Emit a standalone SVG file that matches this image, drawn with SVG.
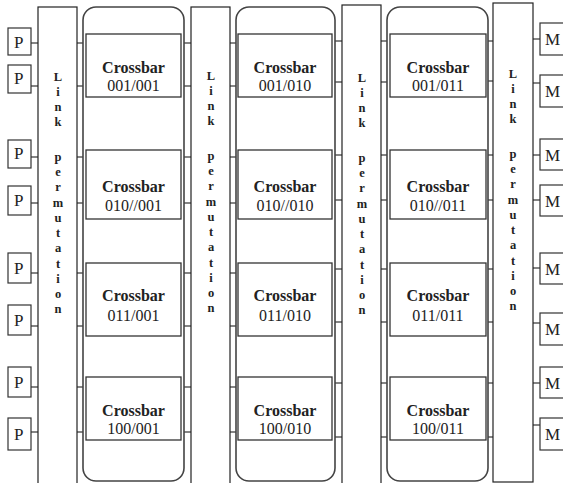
<svg xmlns="http://www.w3.org/2000/svg" width="563" height="483" viewBox="0 0 563 483">
<style>
.bg{fill:#fff}
.io{fill:#fff;stroke:#333;stroke-width:1.2}
.link{fill:#fff;stroke:#222;stroke-width:1.2}
.col{fill:#fff;stroke:#444;stroke-width:1.6}
.xb{fill:#fff;stroke:#333;stroke-width:1.3}
.con line{stroke:#333;stroke-width:1.2}
.iot{font-family:"Liberation Serif","Times New Roman","DejaVu Serif",serif;font-size:17px;fill:#222}
.lt{font-family:"Liberation Serif","Times New Roman","DejaVu Serif",serif;font-size:12.5px;font-weight:bold;fill:#222;text-anchor:middle}
.xt1{font-family:"Liberation Serif","Times New Roman","DejaVu Serif",serif;font-size:16px;font-weight:bold;fill:#222;text-anchor:middle}
.xt2{font-family:"Liberation Serif","Times New Roman","DejaVu Serif",serif;font-size:16px;fill:#222;text-anchor:middle}
</style>
<rect class="bg" x="0" y="0" width="563" height="483"/>

<g id="connectors" class="con">
  <line x1="31" y1="43" x2="38" y2="43"/>
  <line x1="31" y1="86" x2="38" y2="86"/>
  <line x1="31" y1="157" x2="38" y2="157"/>
  <line x1="31" y1="203" x2="38" y2="203"/>
  <line x1="31" y1="273" x2="38" y2="273"/>
  <line x1="31" y1="326" x2="38" y2="326"/>
  <line x1="31" y1="387" x2="38" y2="387"/>
  <line x1="31" y1="432" x2="38" y2="432"/>
  <line x1="77" y1="43" x2="86" y2="43"/>
  <line x1="77" y1="86" x2="86" y2="86"/>
  <line x1="77" y1="157" x2="86" y2="157"/>
  <line x1="77" y1="203" x2="86" y2="203"/>
  <line x1="77" y1="273" x2="86" y2="273"/>
  <line x1="77" y1="326" x2="86" y2="326"/>
  <line x1="77" y1="387" x2="86" y2="387"/>
  <line x1="77" y1="432" x2="86" y2="432"/>
  <line x1="181" y1="43" x2="191" y2="43"/>
  <line x1="181" y1="86" x2="191" y2="86"/>
  <line x1="181" y1="157" x2="191" y2="157"/>
  <line x1="181" y1="203" x2="191" y2="203"/>
  <line x1="181" y1="273" x2="191" y2="273"/>
  <line x1="181" y1="326" x2="191" y2="326"/>
  <line x1="181" y1="387" x2="191" y2="387"/>
  <line x1="181" y1="432" x2="191" y2="432"/>
  <line x1="230" y1="43" x2="238" y2="43"/>
  <line x1="230" y1="86" x2="238" y2="86"/>
  <line x1="230" y1="157" x2="238" y2="157"/>
  <line x1="230" y1="203" x2="238" y2="203"/>
  <line x1="230" y1="273" x2="238" y2="273"/>
  <line x1="230" y1="326" x2="238" y2="326"/>
  <line x1="230" y1="387" x2="238" y2="387"/>
  <line x1="230" y1="432" x2="238" y2="432"/>
  <line x1="332" y1="41" x2="342" y2="41"/>
  <line x1="332" y1="82" x2="342" y2="82"/>
  <line x1="332" y1="155" x2="342" y2="155"/>
  <line x1="332" y1="200" x2="342" y2="200"/>
  <line x1="332" y1="269" x2="342" y2="269"/>
  <line x1="332" y1="322" x2="342" y2="322"/>
  <line x1="332" y1="383" x2="342" y2="383"/>
  <line x1="332" y1="437" x2="342" y2="437"/>
  <line x1="381" y1="41" x2="390" y2="41"/>
  <line x1="381" y1="82" x2="390" y2="82"/>
  <line x1="381" y1="155" x2="390" y2="155"/>
  <line x1="381" y1="200" x2="390" y2="200"/>
  <line x1="381" y1="269" x2="390" y2="269"/>
  <line x1="381" y1="322" x2="390" y2="322"/>
  <line x1="381" y1="383" x2="390" y2="383"/>
  <line x1="381" y1="437" x2="390" y2="437"/>
  <line x1="486" y1="41" x2="493" y2="41"/>
  <line x1="486" y1="81" x2="493" y2="81"/>
  <line x1="486" y1="155" x2="493" y2="155"/>
  <line x1="486" y1="200" x2="493" y2="200"/>
  <line x1="486" y1="269" x2="493" y2="269"/>
  <line x1="486" y1="322" x2="493" y2="322"/>
  <line x1="486" y1="383" x2="493" y2="383"/>
  <line x1="486" y1="437" x2="493" y2="437"/>
  <line x1="533" y1="39" x2="540" y2="39"/>
  <line x1="533" y1="83" x2="540" y2="83"/>
  <line x1="533" y1="155" x2="540" y2="155"/>
  <line x1="533" y1="200" x2="540" y2="200"/>
  <line x1="533" y1="268" x2="540" y2="268"/>
  <line x1="533" y1="323" x2="540" y2="323"/>
  <line x1="533" y1="383" x2="540" y2="383"/>
  <line x1="533" y1="425" x2="540" y2="425"/>
</g>

<g id="columns">
  <rect class="col" x="83" y="7" width="101" height="474" rx="13"/>
  <rect class="col" x="236" y="7" width="99" height="474" rx="13"/>
  <rect class="col" x="387" y="7" width="101" height="474" rx="13"/>
</g>

<g id="P1"><rect class="io" x="8" y="28" width="23" height="27"/><text class="iot" x="14" y="48">P</text></g>
<g id="P2"><rect class="io" x="8" y="65" width="23" height="28"/><text class="iot" x="14" y="84">P</text></g>
<g id="P3"><rect class="io" x="8" y="140" width="23" height="28"/><text class="iot" x="14" y="159">P</text></g>
<g id="P4"><rect class="io" x="8" y="186" width="23" height="29"/><text class="iot" x="14" y="206">P</text></g>
<g id="P5"><rect class="io" x="8" y="253" width="23" height="30"/><text class="iot" x="14" y="274">P</text></g>
<g id="P6"><rect class="io" x="8" y="305" width="23" height="30"/><text class="iot" x="14" y="326">P</text></g>
<g id="P7"><rect class="io" x="8" y="367" width="23" height="30"/><text class="iot" x="14" y="388">P</text></g>
<g id="P8"><rect class="io" x="8" y="418" width="23" height="32"/><text class="iot" x="14" y="440">P</text></g>

<g id="M1"><rect class="io" x="540" y="23" width="30" height="32"/><text class="iot" x="545" y="45">M</text></g>
<g id="M2"><rect class="io" x="540" y="75" width="30" height="32"/><text class="iot" x="545" y="97">M</text></g>
<g id="M3"><rect class="io" x="540" y="139" width="30" height="31"/><text class="iot" x="545" y="161">M</text></g>
<g id="M4"><rect class="io" x="540" y="185" width="30" height="31"/><text class="iot" x="545" y="207">M</text></g>
<g id="M5"><rect class="io" x="540" y="253" width="30" height="31"/><text class="iot" x="545" y="275">M</text></g>
<g id="M6"><rect class="io" x="540" y="313" width="30" height="32"/><text class="iot" x="545" y="335">M</text></g>
<g id="M7"><rect class="io" x="540" y="367" width="30" height="31"/><text class="iot" x="545" y="389">M</text></g>
<g id="M8"><rect class="io" x="540" y="418" width="30" height="32"/><text class="iot" x="545" y="440">M</text></g>

<g id="link1">
  <rect class="link" x="38" y="7" width="39" height="478"/>
  <text class="lt"><tspan x="58" y="81">L</tspan><tspan x="58" y="96">i</tspan><tspan x="58" y="111">n</tspan><tspan x="58" y="126">k</tspan><tspan x="58" y="161">p</tspan><tspan x="58" y="176">e</tspan><tspan x="58" y="191">r</tspan><tspan x="58" y="207">m</tspan><tspan x="58" y="222">u</tspan><tspan x="58" y="237">t</tspan><tspan x="58" y="252">a</tspan><tspan x="58" y="268">t</tspan><tspan x="58" y="283">i</tspan><tspan x="58" y="298">o</tspan><tspan x="58" y="313">n</tspan></text>
</g>
<g id="link2">
  <rect class="link" x="191" y="7" width="39" height="478"/>
  <text class="lt"><tspan x="211" y="80">L</tspan><tspan x="211" y="95">i</tspan><tspan x="211" y="110">n</tspan><tspan x="211" y="125">k</tspan><tspan x="211" y="160">p</tspan><tspan x="211" y="175">e</tspan><tspan x="211" y="190">r</tspan><tspan x="211" y="206">m</tspan><tspan x="211" y="221">u</tspan><tspan x="211" y="236">t</tspan><tspan x="211" y="251">a</tspan><tspan x="211" y="267">t</tspan><tspan x="211" y="282">i</tspan><tspan x="211" y="297">o</tspan><tspan x="211" y="312">n</tspan></text>
</g>
<g id="link3">
  <rect class="link" x="342" y="5" width="39" height="480"/>
  <text class="lt"><tspan x="362" y="82">L</tspan><tspan x="362" y="97">i</tspan><tspan x="362" y="112">n</tspan><tspan x="362" y="127">k</tspan><tspan x="362" y="162">p</tspan><tspan x="362" y="177">e</tspan><tspan x="362" y="192">r</tspan><tspan x="362" y="208">m</tspan><tspan x="362" y="223">u</tspan><tspan x="362" y="238">t</tspan><tspan x="362" y="253">a</tspan><tspan x="362" y="269">t</tspan><tspan x="362" y="284">i</tspan><tspan x="362" y="299">o</tspan><tspan x="362" y="314">n</tspan></text>
</g>
<g id="link4">
  <rect class="link" x="493" y="3" width="40" height="479"/>
  <text class="lt"><tspan x="513" y="78">L</tspan><tspan x="513" y="93">i</tspan><tspan x="513" y="108">n</tspan><tspan x="513" y="123">k</tspan><tspan x="513" y="158">p</tspan><tspan x="513" y="173">e</tspan><tspan x="513" y="188">r</tspan><tspan x="513" y="204">m</tspan><tspan x="513" y="219">u</tspan><tspan x="513" y="234">t</tspan><tspan x="513" y="249">a</tspan><tspan x="513" y="265">t</tspan><tspan x="513" y="280">i</tspan><tspan x="513" y="295">o</tspan><tspan x="513" y="310">n</tspan></text>
</g>

<g id="xb-001-001"><rect class="xb" x="86" y="34" width="95" height="63"/><text class="xt1" x="133.5" y="73">Crossbar</text><text class="xt2" x="133.5" y="91">001/001</text></g>
<g id="xb-010-001"><rect class="xb" x="86" y="150" width="95" height="69"/><text class="xt1" x="133.5" y="192">Crossbar</text><text class="xt2" x="133.5" y="211">010//001</text></g>
<g id="xb-011-001"><rect class="xb" x="86" y="263" width="95" height="73"/><text class="xt1" x="133.5" y="301">Crossbar</text><text class="xt2" x="133.5" y="321">011/001</text></g>
<g id="xb-100-001"><rect class="xb" x="86" y="377" width="95" height="63"/><text class="xt1" x="133.5" y="416">Crossbar</text><text class="xt2" x="133.5" y="434">100/001</text></g>

<g id="xb-001-010"><rect class="xb" x="238" y="34" width="94" height="63"/><text class="xt1" x="285" y="73">Crossbar</text><text class="xt2" x="285" y="91">001/010</text></g>
<g id="xb-010-010"><rect class="xb" x="238" y="150" width="94" height="69"/><text class="xt1" x="285" y="192">Crossbar</text><text class="xt2" x="285" y="211">010//010</text></g>
<g id="xb-011-010"><rect class="xb" x="238" y="263" width="94" height="73"/><text class="xt1" x="285" y="301">Crossbar</text><text class="xt2" x="285" y="321">011/010</text></g>
<g id="xb-100-010"><rect class="xb" x="238" y="377" width="94" height="63"/><text class="xt1" x="285" y="416">Crossbar</text><text class="xt2" x="285" y="434">100/010</text></g>

<g id="xb-001-011"><rect class="xb" x="390" y="34" width="96" height="63"/><text class="xt1" x="438" y="73">Crossbar</text><text class="xt2" x="438" y="91">001/011</text></g>
<g id="xb-010-011"><rect class="xb" x="390" y="150" width="96" height="69"/><text class="xt1" x="438" y="192">Crossbar</text><text class="xt2" x="438" y="211">010//011</text></g>
<g id="xb-011-011"><rect class="xb" x="390" y="263" width="96" height="73"/><text class="xt1" x="438" y="301">Crossbar</text><text class="xt2" x="438" y="321">011/011</text></g>
<g id="xb-100-011"><rect class="xb" x="390" y="377" width="96" height="63"/><text class="xt1" x="438" y="416">Crossbar</text><text class="xt2" x="438" y="434">100/011</text></g>
</svg>
